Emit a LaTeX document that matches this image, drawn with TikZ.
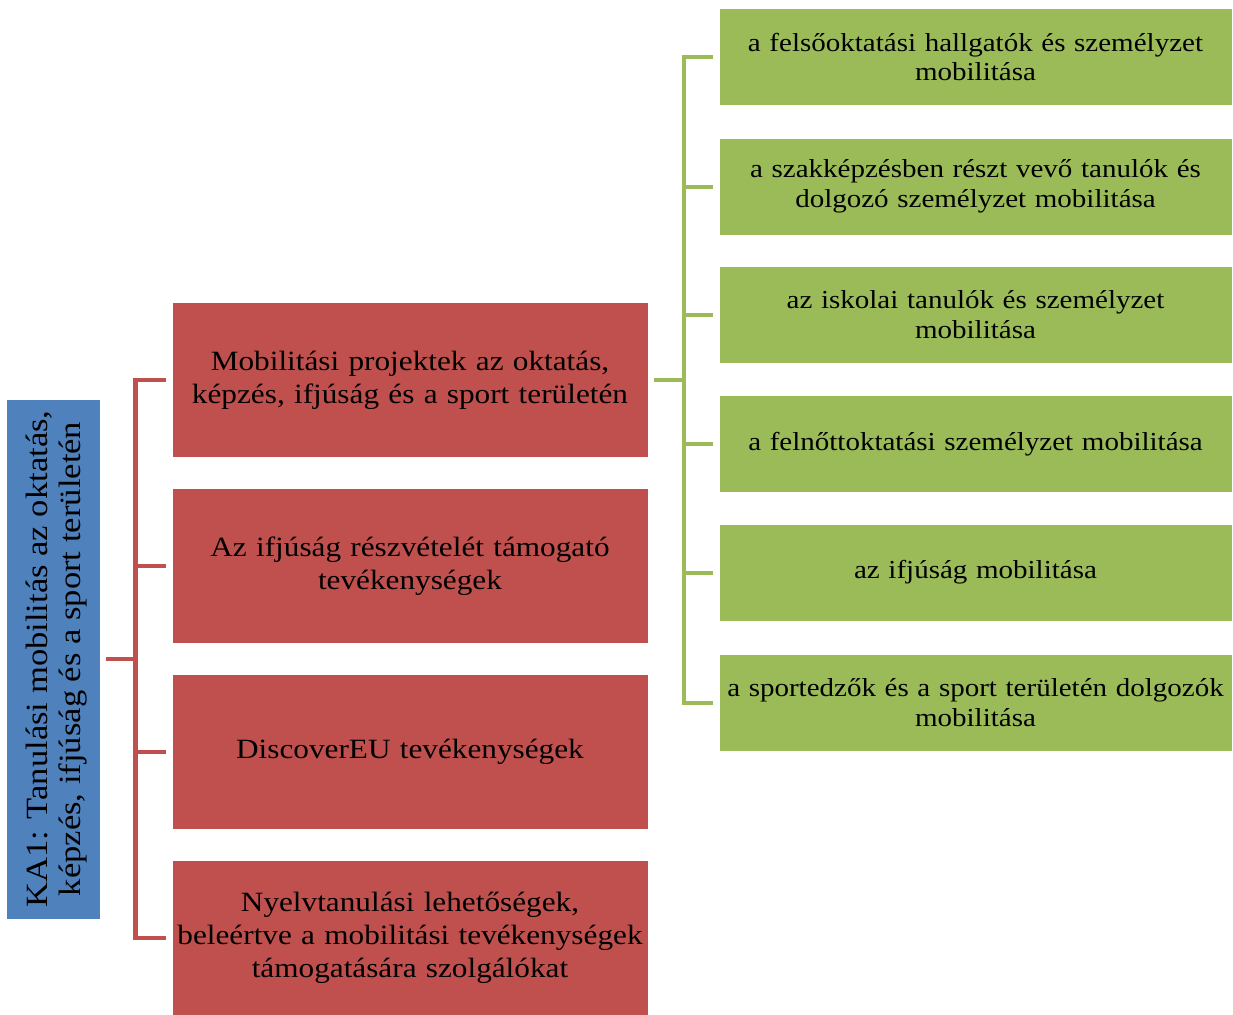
\documentclass[tikz,border=0pt]{standalone}
\usepackage{fontspec}
\setmainfont[FakeStretch=1.12]{Liberation Serif}
\definecolor{kared}{HTML}{C0504D}
\definecolor{kagreen}{HTML}{9BBB59}
\definecolor{kablue}{HTML}{4F81BD}
\begin{document}
\begin{tikzpicture}[x=1bp,y=1bp,
  redbox/.style={fill=kared,draw=white,line width=0.6bp,minimum width=476bp,minimum height=155bp,
    text width=474bp,align=center,inner sep=0pt,font=\fontsize{28}{33}\selectfont},
  greenbox/.style={fill=kagreen,draw=white,line width=0.6bp,minimum width=513bp,minimum height=97bp,
    text width=511bp,align=center,inner sep=0pt,font=\fontsize{26}{30}\selectfont},
  bluebox/.style={fill=kablue,draw=white,line width=0.6bp,minimum width=94bp,minimum height=520bp,inner sep=0pt},
  bluetext/.style={rotate=90,align=center,inner sep=0pt,font=\fontsize{31}{33}\selectfont},
  redln/.style={draw=kared,line width=4.5bp,line join=miter},
  greenln/.style={draw=kagreen,line width=4bp,line join=miter}]
\useasboundingbox (0,0) rectangle (1233,-1015);
\node[bluebox] (ka1) at (53,-659) {};
\node[bluetext] (ka1t) at ([xshift=4bp]ka1.center) {KA1: Tanulási mobilitás az oktatás,\\képzés, ifjúság és a sport területén};
\node[redbox] (r1) at (410,-380) {Mobilitási projektek az oktatás,\\képzés, ifjúság és a sport területén};
\node[redbox] (r2) at (410,-566) {Az ifjúság részvételét támogató\\tevékenységek};
\node[redbox] (r3) at (410,-752) {DiscoverEU tevékenységek};
\node[redbox] (r4) at (410,-938) {Nyelvtanulási lehetőségek,\\beleértve a mobilitási tevékenységek\\támogatására szolgálókat};
\node[greenbox] (g1) at (975.5,-57) {a felsőoktatási hallgatók és személyzet\\mobilitása};
\node[greenbox] (g2) at (975.5,-186.5) {a szakképzésben részt vevő tanulók és\\dolgozó személyzet mobilitása};
\node[greenbox] (g3) at (975.5,-315) {az iskolai tanulók és személyzet\\mobilitása};
\node[greenbox] (g4) at (975.5,-444) {a felnőttoktatási személyzet mobilitása};
\node[greenbox] (g5) at (975.5,-572.5) {az ifjúság mobilitása};
\node[greenbox] (g6) at (975.5,-702.5) {a sportedzők és a sport területén dolgozók\\mobilitása};
\foreach \r in {r1,r2,r3,r4}
  \draw[redln] ([xshift=6bp]ka1.east) -- ++(29,0) |- ([xshift=-6bp]\r.west);
\foreach \g in {g1,g2,g3,g4,g5,g6}
  \draw[greenln] ([xshift=6bp]r1.east) -- ++(30,0) |- ([xshift=-6bp]\g.west);
\end{tikzpicture}
\end{document}
